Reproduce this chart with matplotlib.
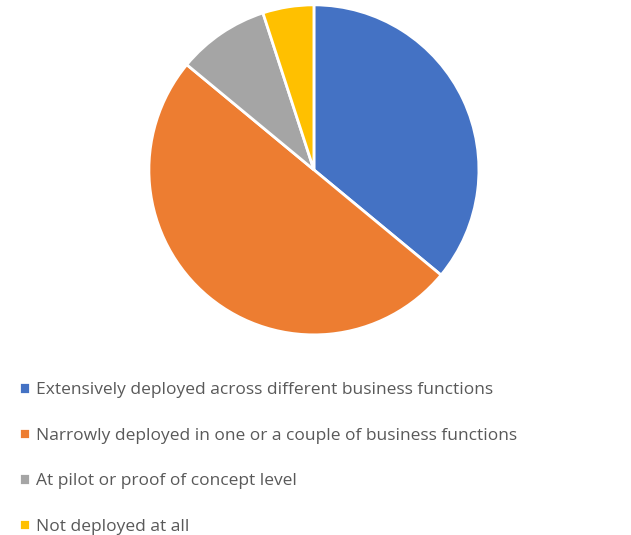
import matplotlib.pyplot as plt

labels = [
    "Extensively deployed across different business functions",
    "Narrowly deployed in one or a couple of business functions",
    "At pilot or proof of concept level",
    "Not deployed at all",
]
shares = [36, 50, 9, 5]
colors = ["#4472C4", "#ED7D31", "#A5A5A5", "#FFC000"]

plt.rcParams["font.family"] = ["Open Sans", "DejaVu Sans"]

fig = plt.figure(figsize=(6.31, 5.35), dpi=100)
ax = fig.add_axes([0.236, 0.374, 0.523, 0.617])

wedges, _ = ax.pie(
    shares,
    colors=colors,
    startangle=90,
    counterclock=False,
    wedgeprops=dict(edgecolor="white", linewidth=2),
)
ax.set_aspect("equal")
ax.set_xlim(-1.0, 1.0)
ax.set_ylim(-1.0, 1.0)

fig.legend(
    wedges,
    labels,
    loc="upper left",
    bbox_to_anchor=(0.005, 0.315),
    frameon=False,
    handlelength=0.62,
    handleheight=0.62,
    handletextpad=0.35,
    labelspacing=1.7,
    fontsize=12.5,
    labelcolor="#595959",
)

fig.savefig("out.png", dpi=100)
